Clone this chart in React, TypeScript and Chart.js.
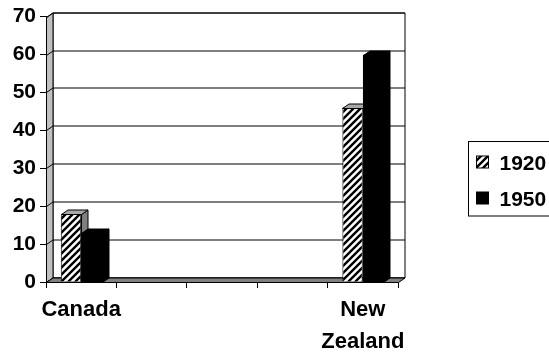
import React, { useEffect, useRef } from "react";
import { Chart, registerables } from "chart.js";

Chart.register(...registerables);

// ---- data ----
const categories: (string | string[])[] = ["Canada", "", "", "", ["New", "Zealand"]];
const series1920: (number | null)[] = [18, null, null, null, 46];
const series1950: (number | null)[] = [13, null, null, null, 60];
const seriesLabels: string[] = ["1920", "1950"];
const yMin = 0;
const yMax = 70;
const yStep = 10;

// ---- style ----
const FONT = "'Liberation Sans', Arial, Helvetica, sans-serif";
const DX = 6.5;
const DY = -4.5;

function makeHatch(): CanvasPattern | string {
  const c = document.createElement("canvas");
  const s = 7;
  c.width = s;
  c.height = s;
  const g = c.getContext("2d");
  if (!g) return "#fff";
  g.fillStyle = "#fff";
  g.fillRect(0, 0, s, s);
  g.strokeStyle = "#000";
  g.lineWidth = 2.4;
  g.beginPath();
  g.moveTo(-1, s + 1);
  g.lineTo(s + 1, -1);
  g.moveTo(-1, 1);
  g.lineTo(1, -1);
  g.moveTo(s - 1, s + 1);
  g.lineTo(s + 1, s - 1);
  g.stroke();
  const p = g.createPattern(c, "repeat");
  return p || "#fff";
}

function poly(ctx: CanvasRenderingContext2D, pts: number[][], fill: string | CanvasPattern | null) {
  ctx.beginPath();
  ctx.moveTo(pts[0][0], pts[0][1]);
  for (let i = 1; i < pts.length; i++) ctx.lineTo(pts[i][0], pts[i][1]);
  ctx.closePath();
  if (fill) {
    ctx.fillStyle = fill;
    ctx.fill();
  }
  ctx.stroke();
}

export default function App() {
  const ref = useRef<HTMLCanvasElement | null>(null);

  useEffect(() => {
    document.body.style.margin = "0";
    const canvas = ref.current;
    if (!canvas) return;
    const hatch = makeHatch();

    const threeD = {
      id: "threeD",
      beforeDatasetsDraw(chart: any) {
        const { ctx, chartArea: a, scales } = chart;
        const y = scales.y;
        const L = Math.round(a.left) + 0.5;
        const R = Math.round(a.right) + 0.5;
        const T = Math.round(a.top) + 0.5;
        const B = Math.round(a.bottom) + 0.5;
        ctx.save();
        ctx.lineWidth = 1;
        ctx.strokeStyle = "#000";
        // back wall
        poly(ctx, [[L + DX, T + DY], [R + DX, T + DY], [R + DX, B + DY], [L + DX, B + DY]], "#fff");
        // left wall
        poly(ctx, [[L, T], [L + DX, T + DY], [L + DX, B + DY], [L, B]], "#c0c0c0");
        // gridlines
        for (let v = yMin; v <= yMax; v += yStep) {
          const py = Math.round(y.getPixelForValue(v)) + 0.5;
          ctx.beginPath();
          ctx.moveTo(L, py);
          ctx.lineTo(L + DX, py + DY);
          ctx.lineTo(R + DX, py + DY);
          ctx.stroke();
        }
        // floor
        poly(ctx, [[L, B], [R, B], [R + DX, B + DY], [L + DX, B + DY]], "#808080");
        ctx.restore();
      },
      afterDatasetsDraw(chart: any) {
        const { ctx } = chart;
        const m0 = chart.getDatasetMeta(0);
        const m1 = chart.getDatasetMeta(1);
        ctx.save();
        ctx.lineWidth = 1;
        ctx.strokeStyle = "#000";
        const faces = (el: any, front: string | CanvasPattern | null, top: string, side: string) => {
          const p = el.getProps(["x", "y", "base", "width"], true);
          const x0 = Math.round(p.x - p.width / 2) + 0.5;
          const x1 = Math.round(p.x + p.width / 2) + 0.5;
          const t = Math.round(p.y) + 0.5;
          const b = Math.round(p.base) + 0.5;
          if (front) poly(ctx, [[x0, t], [x1, t], [x1, b], [x0, b]], front);
          poly(ctx, [[x1, t], [x1 + DX, t + DY], [x1 + DX, b + DY], [x1, b]], side);
          poly(ctx, [[x0, t], [x1, t], [x1 + DX, t + DY], [x0 + DX, t + DY]], top);
        };
        for (let i = 0; i < categories.length; i++) {
          if (series1920[i] != null && m0.data[i]) faces(m0.data[i], null, "#a8a8a8", "#808080");
          if (series1950[i] != null && m1.data[i]) faces(m1.data[i], "#000", "#000", "#000");
        }
        ctx.restore();
      },
      afterDraw(chart: any) {
        const { ctx, chartArea: a } = chart;
        ctx.save();
        ctx.lineWidth = 1;
        ctx.strokeStyle = "#000";
        const bx = Math.round(a.right) + 70.5;
        const by = 141.5;
        ctx.strokeRect(bx, by, 120, 74.5);
        const fills: (string | CanvasPattern)[] = [hatch, "#000"];
        ctx.font = `bold 21px ${FONT}`;
        ctx.textBaseline = "alphabetic";
        ctx.textAlign = "left";
        for (let k = 0; k < seriesLabels.length; k++) {
          const sy = by + 14.5 + k * 36;
          ctx.fillStyle = fills[k];
          ctx.fillRect(bx + 8, sy, 12, 12);
          ctx.strokeRect(bx + 8, sy, 12, 12);
          ctx.fillStyle = "#000";
          ctx.fillText(seriesLabels[k], bx + 31, sy + 14);
        }
        ctx.restore();
      },
    };

    const chart = new Chart(canvas, {
      type: "bar",
      data: {
        labels: categories,
        datasets: [
          {
            label: seriesLabels[0],
            data: series1920,
            backgroundColor: hatch as any,
            borderColor: "#000",
            borderWidth: 1,
            categoryPercentage: 0.58,
            barPercentage: 1,
          },
          {
            label: seriesLabels[1],
            data: series1950,
            backgroundColor: "#000",
            borderColor: "#000",
            borderWidth: 1,
            categoryPercentage: 0.58,
            barPercentage: 1,
          },
        ],
      },
      options: {
        animation: false,
        responsive: false,
        maintainAspectRatio: false,
        layout: { padding: { top: 15, right: 151, left: 0, bottom: 0 } },
        plugins: { legend: { display: false }, tooltip: { enabled: false } },
        scales: {
          x: {
            offset: true,
            grid: { offset: true, drawOnChartArea: false, drawTicks: true, tickLength: 6, color: "#000", lineWidth: 1 },
            border: { display: true, color: "#000", width: 1 },
            ticks: {
              color: "#000",
              padding: 6,
              maxRotation: 0,
              autoSkip: false,
              font: { family: FONT, size: 22, weight: "bold", lineHeight: 1.45 },
            },
            afterFit(scale: any) {
              scale.height = 74;
            },
          },
          y: {
            min: yMin,
            max: yMax,
            grid: { drawOnChartArea: false, drawTicks: true, tickLength: 6, color: "#000", lineWidth: 1 },
            border: { display: true, color: "#000", width: 1 },
            ticks: {
              stepSize: yStep,
              color: "#000",
              padding: 4,
              font: { family: FONT, size: 21, weight: "bold" },
            },
            afterFit(scale: any) {
              scale.width = 46;
            },
          },
        },
      },
      plugins: [threeD],
    });
    return () => chart.destroy();
  }, []);

  return (
    <div style={{ width: 549, height: 356 }}>
      <canvas ref={ref} width={549} height={356} style={{ display: "block", width: 549, height: 356 }} />
    </div>
  );
}
